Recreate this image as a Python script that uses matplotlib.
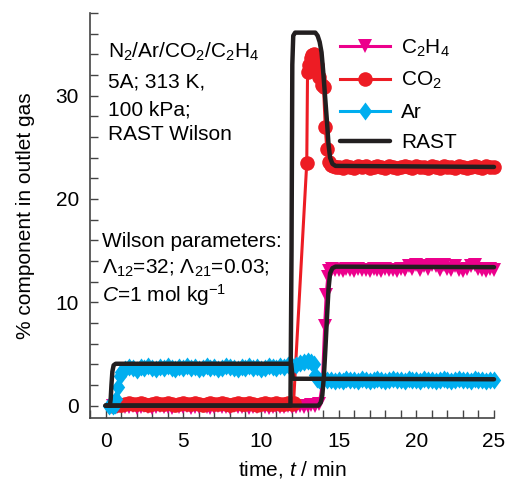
import matplotlib
matplotlib.use('Agg')
import matplotlib.pyplot as plt
from matplotlib.ticker import MultipleLocator

plt.rcParams['font.family'] = ['Liberation Sans', 'DejaVu Sans']
plt.rcParams['mathtext.fontset'] = 'custom'
plt.rcParams['mathtext.rm'] = 'Liberation Sans'
plt.rcParams['mathtext.it'] = 'Liberation Sans:italic'
plt.rcParams['mathtext.bf'] = 'Liberation Sans:bold'

# sample times of the plateaus (min)
t_early = [1.0, 1.25, 1.5, 1.75, 2.0, 2.25, 2.5, 2.75, 3.0, 3.25,
           3.5, 3.75, 4.0, 4.25, 4.5, 4.75, 5.0, 5.25, 5.5, 5.75,
           6.0, 6.25, 6.5, 6.75, 7.0, 7.25, 7.5, 7.75, 8.0, 8.25,
           8.5, 8.75, 9.0, 9.25, 9.5, 9.75, 10.0, 10.25, 10.5, 10.75,
           11.0, 11.25, 11.5, 11.75, 12.0]
t_late = [15.0, 15.25, 15.5, 15.75, 16.0, 16.25, 16.5, 16.75, 17.0, 17.25,
          17.5, 17.75, 18.0, 18.25, 18.5, 18.75, 19.0, 19.25, 19.5, 19.75,
          20.0, 20.25, 20.5, 20.75, 21.0, 21.25, 21.5, 21.75, 22.0, 22.25,
          22.5, 22.75, 23.0, 23.25, 23.5, 23.75, 24.0, 24.25, 24.5, 24.75,
          25.0]

# C2H4 experimental
t_c2h4_in = [0.5, 0.75]
c2h4_in = [0.0, -0.1]
c2h4_early = [0.0, -0.1, -0.1, 0.0, -0.2, -0.1, 0.0, -0.1, -0.2, -0.1,
              0.0, -0.1, -0.1, -0.2, 0.0, -0.1, -0.1, 0.0, -0.2, -0.1,
              -0.1, 0.0, -0.1, -0.2, -0.1, 0.0, -0.1, -0.1, -0.2, 0.0,
              -0.1, -0.1, 0.0, -0.2, -0.1, -0.1, 0.0, -0.1, -0.2, -0.1,
              0.0, -0.1, -0.1, 0.0, -0.1]
t_c2h4_mid = [12.25, 12.5, 12.75, 13.0, 13.25, 13.5, 13.75, 13.95, 14.1, 14.2, 14.3, 14.4, 14.55, 14.75]
c2h4_mid = [-0.1, 0.0, -0.1, 0.0, 0.1, 0.0, 0.2, 2.0, 7.7, 10.7, 12.4, 13.0, 13.2, 13.1]
c2h4_late = [13.1, 13.0, 13.2, 13.1, 13.0, 13.2, 13.1, 13.1, 13.0, 13.2,
             13.1, 13.0, 13.2, 13.1, 13.1, 13.0, 13.2, 13.1, 13.5, 13.2,
             13.6, 13.1, 13.5, 13.2, 13.6, 13.5, 13.1, 13.6, 13.2, 13.1,
             13.5, 13.1, 13.0, 13.2, 13.5, 13.6, 13.2, 13.1, 13.0, 13.2,
             13.1]

# CO2 experimental
t_co2_in = [0.5, 0.75]
co2_in = [0.0, 0.1]
co2_early = [0.1, 0.2, 0.3, 0.2, 0.2, 0.3, 0.2, 0.1, 0.2, 0.3,
             0.2, 0.2, 0.3, 0.2, 0.1, 0.2, 0.3, 0.2, 0.2, 0.3,
             0.2, 0.1, 0.2, 0.3, 0.2, 0.2, 0.3, 0.2, 0.1, 0.2,
             0.3, 0.2, 0.2, 0.3, 0.2, 0.1, 0.2, 0.3, 0.2, 0.2,
             0.3, 0.2, 0.2, 0.3, 0.2]
t_co2_mid = [12.1, 12.95, 13.0, 13.1, 13.2, 13.3, 13.4, 13.5, 13.6, 13.75, 13.9,
             14.03, 14.14, 14.24, 14.35, 14.5, 14.65, 14.8]
co2_mid = [0.3, 23.5, 32.3, 33.0, 33.6, 33.9, 34.0, 33.6, 33.0, 31.8, 31.0,
           30.8, 27.0, 24.8, 23.6, 23.3, 23.2, 23.1]
co2_late = [23.1, 23.0, 23.2, 23.1, 23.0, 23.2, 23.1, 23.2, 23.0, 23.1,
            23.2, 23.1, 23.0, 23.2, 23.1, 23.0, 23.1, 23.2, 23.1, 23.0,
            23.2, 23.1, 23.1, 23.0, 23.2, 23.1, 23.0, 23.2, 23.1, 23.1,
            23.0, 23.2, 23.1, 23.0, 23.1, 23.2, 23.1, 23.0, 23.2, 23.1,
            23.1]

# Ar experimental
t_ar_in = [0.25, 0.5, 0.6, 0.7, 0.8, 0.9]
ar_in = [0.0, 0.0, 0.1, 0.6, 1.8, 2.9]
ar_early = [3.3, 3.5, 3.7, 3.6, 3.4, 3.7, 3.6, 3.8, 3.6, 3.5,
            3.7, 3.6, 3.8, 3.6, 3.5, 3.7, 3.6, 3.8, 3.6, 3.7,
            3.5, 3.6, 3.8, 3.6, 3.7, 3.5, 3.6, 3.8, 3.7, 3.6,
            3.5, 3.7, 3.6, 3.8, 3.6, 3.7, 3.5, 3.6, 3.8, 3.7,
            3.6, 3.8, 3.7, 3.9, 3.8]
t_ar_mid = [12.25, 12.5, 12.75, 13.0, 13.25, 13.4, 13.5, 13.6, 13.75, 14.0, 14.25, 14.5, 14.75]
ar_mid = [3.9, 4.1, 4.2, 4.3, 4.2, 4.0, 3.0, 2.6, 2.5, 2.6, 2.5, 2.5, 2.4]
ar_late = [2.5, 2.4, 2.6, 2.5, 2.5, 2.4, 2.6, 2.5, 2.4, 2.5,
           2.6, 2.5, 2.4, 2.5, 2.6, 2.5, 2.5, 2.4, 2.6, 2.5,
           2.5, 2.4, 2.6, 2.5, 2.5, 2.4, 2.5, 2.6, 2.5, 2.4,
           2.5, 2.6, 2.5, 2.5, 2.4, 2.6, 2.5, 2.5, 2.4, 2.5,
           2.5]

# RAST / Wilson simulations
rast_t_c2h4 = [0.0, 13.7, 13.85, 13.95, 14.05, 14.15, 14.25, 14.35, 14.45, 14.6, 14.8, 25.0]
rast_c2h4 = [0.0, 0.0, 0.3, 1.0, 2.8, 5.5, 8.5, 11.3, 12.8, 13.3, 13.45, 13.4]
rast_t_co2 = [0.0, 11.9, 11.97, 12.02, 12.08, 12.2, 13.5, 13.65, 13.78, 13.9, 14.0,
              14.1, 14.24, 14.35, 14.45, 14.6, 14.8, 25.0]
rast_co2 = [0.0, 0.0, 15.0, 33.0, 35.8, 36.1, 36.1, 35.8, 35.2, 34.2, 32.5,
            30.5, 27.7, 25.3, 24.0, 23.4, 23.2, 23.1]
rast_t_ar = [0.0, 0.28, 0.33, 0.38, 0.44, 0.52, 0.65, 11.95, 12.05, 25.0]
rast_ar = [0.0, 0.0, 0.6, 2.0, 3.3, 3.9, 4.05, 4.05, 2.6, 2.55]

c_c2h4 = '#EC008C'
c_co2 = '#ED1C24'
c_ar = '#00AEEF'
c_rast = '#231F20'

diamond = [(0, 1), (0.74, 0), (0, -1), (-0.74, 0), (0, 1)]

fig = plt.figure(figsize=(5.07, 4.96), dpi=100)
ax = fig.add_axes([90 / 507, 1 - 418 / 496, 404 / 507, 405 / 496])

ax.plot(t_c2h4_in + t_early + t_c2h4_mid + t_late, c2h4_in + c2h4_early + c2h4_mid + c2h4_late,
        color=c_c2h4, lw=2.2, marker='v', ms=9.5, mew=0, clip_on=False,
        label='C$_2$H$_4$')
ax.plot(t_co2_in + t_early + t_co2_mid + t_late, co2_in + co2_early + co2_mid + co2_late,
        color=c_co2, lw=2.2, marker='o', ms=10.5, mew=0, clip_on=False,
        label='CO$_2$')
ax.plot(t_ar_in + t_early + t_ar_mid + t_late, ar_in + ar_early + ar_mid + ar_late,
        color=c_ar, lw=2.2, marker=diamond, ms=13, mew=0, clip_on=False,
        label='Ar')
rast_kw = dict(color=c_rast, lw=3.2, solid_joinstyle='round', solid_capstyle='round', clip_on=False)
ax.plot(rast_t_c2h4, rast_c2h4, label='RAST', **rast_kw)
ax.plot(rast_t_co2, rast_co2, **rast_kw)
ax.plot(rast_t_ar, rast_ar, **rast_kw)

ax.set_xlim(-1, 25)
ax.set_ylim(-1.2, 38)
ax.xaxis.set_major_locator(MultipleLocator(5))
ax.xaxis.set_minor_locator(MultipleLocator(1))
ax.yaxis.set_major_locator(MultipleLocator(10))
ax.yaxis.set_minor_locator(MultipleLocator(2))
ax.tick_params(which='both', direction='in', length=6, width=1, color='#444444',
               labelsize=15, top=False, right=False)
ax.tick_params(axis='x', pad=10)
ax.tick_params(axis='y', pad=8)
for side in ['top', 'right']:
    ax.spines[side].set_visible(False)
for side in ['left', 'bottom']:
    ax.spines[side].set_linewidth(1.2)
    ax.spines[side].set_color('#444444')

ax.set_xlabel('time, $t$ / min', fontsize=15)
ax.set_ylabel('% component in outlet gas', fontsize=15)
ax.xaxis.set_label_coords(0.5, -0.1)
ax.yaxis.set_label_coords(-0.135, 0.5)

ax.text(0.045, 0.889, 'N$_2$/Ar/CO$_2$/C$_2$H$_4$', transform=ax.transAxes, fontsize=15, va='baseline')
ax.text(0.045, 0.817, '5A; 313 K,', transform=ax.transAxes, fontsize=15, va='baseline')
ax.text(0.045, 0.746, '100 kPa;', transform=ax.transAxes, fontsize=15, va='baseline')
ax.text(0.045, 0.686, 'RAST Wilson', transform=ax.transAxes, fontsize=15, va='baseline')

ax.text(0.029, 0.423, 'Wilson parameters:', transform=ax.transAxes, fontsize=15, va='baseline')
ax.text(0.029, 0.357, r'$\Lambda_{12}$=32; $\Lambda_{21}$=0.03;', transform=ax.transAxes, fontsize=15, va='baseline')
ax.text(0.029, 0.287, '$C$=1 mol kg$^{-1}$', transform=ax.transAxes, fontsize=15, va='baseline')

ax.legend(loc='upper left', bbox_to_anchor=(0.62, 0.94), frameon=False, fontsize=15,
          handlelength=2.4, handletextpad=0.5, labelspacing=0.55, numpoints=1,
          borderaxespad=0, borderpad=0)

fig.savefig('out.png', dpi=100)
